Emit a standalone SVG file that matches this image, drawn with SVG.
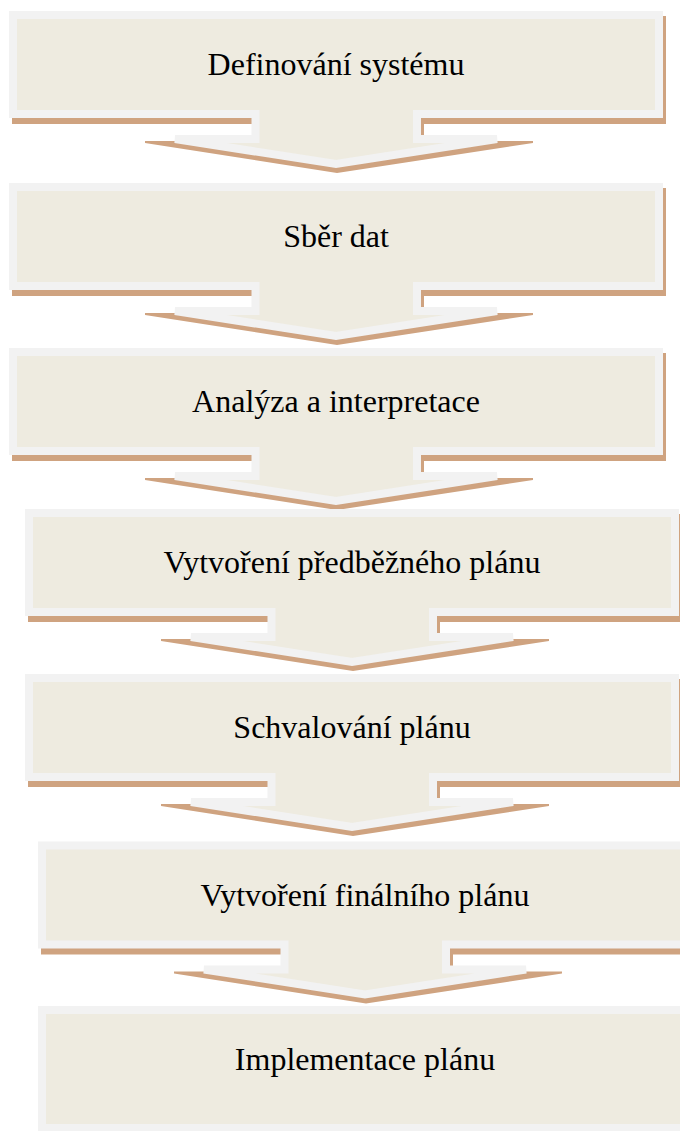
<svg xmlns="http://www.w3.org/2000/svg" xmlns:xlink="http://www.w3.org/1999/xlink" width="680" height="1131" viewBox="0 0 680 1131">
  <style>
    .shadow { fill: #cfa380; }
    .shape { fill: #eeebe0; stroke: #f2f2f2; stroke-width: 8; stroke-linejoin: miter; stroke-miterlimit: 4; }
    .label { font-family: "Liberation Serif", "Times New Roman", serif; font-size: 32px; fill: #000000; text-anchor: middle; }
  </style>
  <defs>
    <path id="callout-shadow" d="M12,16 H666 V124 H424 V141 H533 V143 L337,173 L145,143 V141 H252 V124 H12 Z"/>
    <path id="callout" d="M13,15 H659 V114 H417 V139 H497 L336,164 L175,139 H255.5 V114 H13 Z"/>
    <path id="box-shadow" d="M12,16 H666 V143 H12 Z"/>
    <path id="box" d="M13,15 H659 V133 H13 Z"/>
  </defs>
  <rect x="0" y="0" width="680" height="1131" fill="#ffffff"/>
  <g id="connectors"></g>
  <g id="node1" transform="translate(0,0)">
    <use xlink:href="#callout-shadow" class="shadow"/>
    <use xlink:href="#callout" class="shape"/>
    <text class="label" x="336" y="75">Definování systému</text>
  </g>
  <g id="node2" transform="translate(0,172)">
    <use xlink:href="#callout-shadow" class="shadow"/>
    <use xlink:href="#callout" class="shape"/>
    <text class="label" x="336" y="75">Sběr dat</text>
  </g>
  <g id="node3" transform="translate(0,337)">
    <use xlink:href="#callout-shadow" class="shadow"/>
    <use xlink:href="#callout" class="shape"/>
    <text class="label" x="336" y="75">Analýza a interpretace</text>
  </g>
  <g id="node4" transform="translate(16,498)">
    <use xlink:href="#callout-shadow" class="shadow"/>
    <use xlink:href="#callout" class="shape"/>
    <text class="label" x="336" y="75">Vytvoření předběžného plánu</text>
  </g>
  <g id="node5" transform="translate(16,663)">
    <use xlink:href="#callout-shadow" class="shadow"/>
    <use xlink:href="#callout" class="shape"/>
    <text class="label" x="336" y="75">Schvalování plánu</text>
  </g>
  <g id="node6" transform="translate(29,830.5)">
    <use xlink:href="#callout-shadow" class="shadow"/>
    <use xlink:href="#callout" class="shape"/>
    <text class="label" x="336" y="75">Vytvoření finálního plánu</text>
  </g>
  <g id="node7" transform="translate(29,995)">
    <use xlink:href="#box-shadow" class="shadow"/>
    <use xlink:href="#box" class="shape"/>
    <text class="label" x="336" y="75">Implementace plánu</text>
  </g>
</svg>
